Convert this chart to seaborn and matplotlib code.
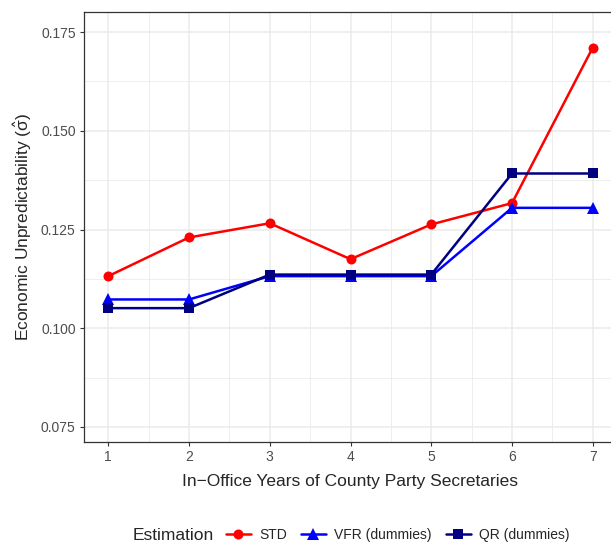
import pandas as pd
import matplotlib
matplotlib.use('Agg')
import matplotlib.pyplot as plt
import seaborn as sns

# 데이터
years = [1, 2, 3, 4, 5, 6, 7]
std_vals = [0.1132, 0.1230, 0.1266, 0.1175, 0.1263, 0.1317, 0.1711]
vfr_vals = [0.1073, 0.1073, 0.1132, 0.1132, 0.1132, 0.1305, 0.1305]
qr_vals = [0.1051, 0.1051, 0.1136, 0.1136, 0.1136, 0.1392, 0.1392]
methods = ['STD', 'VFR (dummies)', 'QR (dummies)']
colors = {'STD': '#FF0000', 'VFR (dummies)': '#0000FF', 'QR (dummies)': '#000080'}
markers = {'STD': 'o', 'VFR (dummies)': '^', 'QR (dummies)': 's'}
msize = {'o': 7.2, '^': 8.6, 's': 7.2}

df = pd.DataFrame({
    'year': years * 3,
    'value': std_vals + vfr_vals + qr_vals,
    'Estimation': [m for m in methods for _ in years],
})

sns.set_style('whitegrid')
plt.rcParams['font.family'] = ['Liberation Sans', 'DejaVu Sans']
plt.rcParams['mathtext.fontset'] = 'dejavusans'

fig = plt.figure(figsize=(6.11, 5.44), dpi=100)
ax = fig.add_axes([84 / 611, 102 / 544, (617 - 84) / 611, (532 - 102) / 544])

sns.lineplot(data=df, x='year', y='value', hue='Estimation', style='Estimation',
             hue_order=methods, style_order=methods, palette=colors,
             markers=markers, dashes=False, linewidth=1.8, markersize=7.2,
             markeredgewidth=0, ax=ax, legend=False)

# 삼각형 마커만 조금 크게
for ln in ax.lines:
    if ln.get_marker() in msize:
        ln.set_markersize(msize[ln.get_marker()])

ax.set_xlim(0.7, 7.3)
ax.set_ylim(0.0712, 0.1801)
ax.set_xticks(years)
ax.set_yticks([0.075, 0.100, 0.125, 0.150, 0.175])
ax.set_yticklabels(['0.075', '0.100', '0.125', '0.150', '0.175'])
ax.set_xticks([1.5, 2.5, 3.5, 4.5, 5.5, 6.5], minor=True)
ax.set_yticks([0.0875, 0.1125, 0.1375, 0.1625], minor=True)
ax.grid(which='major', color='#EBEBEB', linewidth=1.1)
ax.grid(which='minor', color='#EBEBEB', linewidth=0.6)
ax.tick_params(which='major', length=3, width=0.8, color='#333333',
               labelsize=10, labelcolor='#4D4D4D', pad=3, left=True, bottom=True)
ax.tick_params(which='minor', length=0)
for s in ax.spines.values():
    s.set_color('#333333')
    s.set_linewidth(0.9)

ax.set_xlabel('In\u2212Office Years of County Party Secretaries', fontsize=12.5, labelpad=7)
ax.set_ylabel(r'Economic Unpredictability ($\hat{\mathregular{\sigma}}$)', fontsize=12.5, labelpad=5)

# 범례 (하단, 가로)
handles = [plt.Line2D([], [], color=colors[m], marker=markers[m], linewidth=1.8,
                      markersize=msize[markers[m]], markeredgewidth=0) for m in methods]
fig.text(133 / 611, 1 - 535 / 544, 'Estimation', fontsize=12.5, va='center', ha='left')
fig.legend(handles, methods, loc='center left', bbox_to_anchor=(226 / 611, 1 - 535 / 544),
           ncol=3, frameon=False, fontsize=10, handlelength=1.8, handletextpad=0.6,
           columnspacing=1.0, borderaxespad=0, borderpad=0)

fig.savefig('out.png', dpi=100)
